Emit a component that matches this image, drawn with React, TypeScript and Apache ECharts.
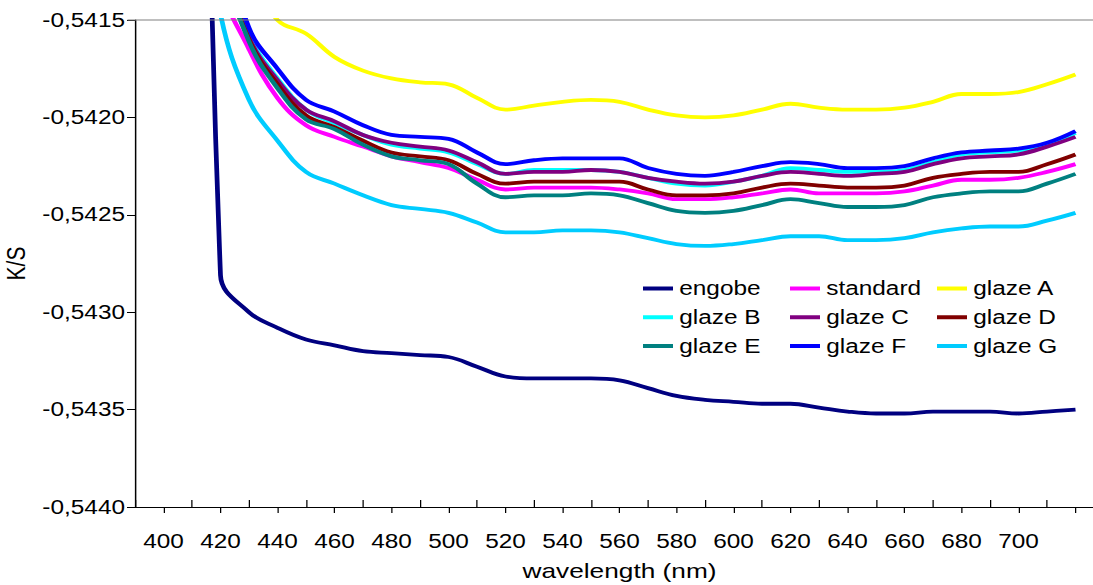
import React, { useEffect, useRef } from "react";
import * as echarts from "echarts";

// wavelengths (nm)
const wavelengths = [400, 410, 420, 430, 440, 450, 460, 470, 480, 490, 500, 510, 520, 530, 540, 550, 560, 570, 580, 590, 600, 610, 620, 630, 640, 650, 660, 670, 680, 690, 700, 710, 720];

const engobe = [-0.5340, -0.5355, -0.54281, -0.54300, -0.54308, -0.54314, -0.54317, -0.54320, -0.54321, -0.54322, -0.54323, -0.54328, -0.54333, -0.54334, -0.54334, -0.54334, -0.54335, -0.54339, -0.54343, -0.54345, -0.54346, -0.54347, -0.54347, -0.54349, -0.54351, -0.54352, -0.54352, -0.54351, -0.54351, -0.54351, -0.54352, -0.54351, -0.54350];
const standard = [null, -0.5400, -0.54130, -0.54165, -0.54190, -0.54204, -0.54210, -0.54215, -0.54220, -0.54223, -0.54226, -0.54232, -0.54237, -0.54236, -0.54236, -0.54236, -0.54237, -0.54239, -0.54242, -0.54242, -0.54241, -0.54239, -0.54237, -0.54239, -0.54239, -0.54239, -0.54238, -0.54235, -0.54232, -0.54232, -0.54231, -0.54228, -0.54224];
const glazeA = [null, null, -0.5408, -0.54125, -0.54150, -0.54157, -0.54169, -0.54176, -0.54180, -0.54182, -0.54183, -0.54190, -0.54196, -0.54194, -0.54192, -0.54191, -0.54192, -0.54196, -0.54199, -0.54200, -0.54199, -0.54196, -0.54193, -0.54195, -0.54196, -0.54196, -0.54195, -0.54192, -0.54188, -0.54188, -0.54187, -0.54183, -0.54178];
const glazeB = [null, -0.5400, -0.54115, -0.54158, -0.54180, -0.54196, -0.54203, -0.54209, -0.54214, -0.54216, -0.54218, -0.54224, -0.54229, -0.54227, -0.54227, -0.54227, -0.54228, -0.54231, -0.54234, -0.54235, -0.54233, -0.54230, -0.54226, -0.54227, -0.54228, -0.54228, -0.54227, -0.54223, -0.54219, -0.54218, -0.54217, -0.54214, -0.54208];
const glazeC = [null, -0.5400, -0.54115, -0.54159, -0.54181, -0.54196, -0.54202, -0.54209, -0.54213, -0.54215, -0.54217, -0.54223, -0.54229, -0.54228, -0.54228, -0.54227, -0.54228, -0.54231, -0.54233, -0.54234, -0.54233, -0.54230, -0.54228, -0.54229, -0.54230, -0.54229, -0.54228, -0.54224, -0.54221, -0.54220, -0.54219, -0.54215, -0.54210];
const glazeD = [null, -0.5400, -0.54115, -0.54160, -0.54183, -0.54199, -0.54205, -0.54212, -0.54218, -0.54220, -0.54222, -0.54229, -0.54234, -0.54233, -0.54233, -0.54233, -0.54233, -0.54237, -0.54240, -0.54240, -0.54239, -0.54236, -0.54234, -0.54235, -0.54236, -0.54236, -0.54235, -0.54231, -0.54229, -0.54228, -0.54228, -0.54224, -0.54219];
const glazeE = [null, -0.5400, -0.54115, -0.54161, -0.54185, -0.54201, -0.54206, -0.54214, -0.54220, -0.54222, -0.54224, -0.54234, -0.54241, -0.54240, -0.54240, -0.54239, -0.54240, -0.54244, -0.54248, -0.54249, -0.54248, -0.54245, -0.54242, -0.54244, -0.54246, -0.54246, -0.54245, -0.54241, -0.54239, -0.54238, -0.54238, -0.54234, -0.54229];
const glazeF = [null, -0.5400, -0.54100, -0.54154, -0.54175, -0.54191, -0.54197, -0.54204, -0.54209, -0.54210, -0.54211, -0.54218, -0.54224, -0.54222, -0.54221, -0.54221, -0.54221, -0.54226, -0.54229, -0.54230, -0.54228, -0.54225, -0.54223, -0.54224, -0.54226, -0.54226, -0.54225, -0.54221, -0.54218, -0.54217, -0.54216, -0.54213, -0.54207];
const glazeG = [null, -0.5405, -0.54147, -0.54191, -0.54212, -0.54228, -0.54234, -0.54240, -0.54245, -0.54247, -0.54249, -0.54254, -0.54259, -0.54259, -0.54258, -0.54258, -0.54259, -0.54262, -0.54265, -0.54266, -0.54265, -0.54263, -0.54261, -0.54261, -0.54263, -0.54263, -0.54262, -0.54259, -0.54257, -0.54256, -0.54256, -0.54253, -0.54249];

const seriesNames = ["engobe", "standard", "glaze A", "glaze B", "glaze C", "glaze D", "glaze E", "glaze F", "glaze G"];
const seriesValues = [engobe, standard, glazeA, glazeB, glazeC, glazeD, glazeE, glazeF, glazeG];
const seriesColors = ["#000080", "#FF00FF", "#FFFF00", "#00FFFF", "#800080", "#800000", "#008080", "#0000FF", "#00CCFF"];

const legendColumns = [
  ["engobe", "glaze B", "glaze E"],
  ["standard", "glaze C", "glaze F"],
  ["glaze A", "glaze D", "glaze G"],
];

const xLabelValues = [400, 420, 440, 460, 480, 500, 520, 540, 560, 580, 600, 620, 640, 660, 680, 700];

const FONT = "'Liberation Sans', Arial, sans-serif";
const SX = 1.25;

export default function App() {
  const ref = useRef<HTMLDivElement>(null);

  useEffect(() => {
    if (!ref.current) return;
    const chart = echarts.init(ref.current, undefined, { renderer: "svg" });
    const xCommon = { type: "value", min: 390, max: 730, position: "bottom", splitLine: { show: false } };
    const option: any = {
      animation: false,
      backgroundColor: "#ffffff",
      textStyle: { fontFamily: FONT },
      grid: { left: 108, top: 20, width: 775.2, height: 487, containLabel: false, outerBoundsMode: "none" },
      xAxis: [
        {
          ...xCommon,
          interval: 10,
          axisLine: { show: true, onZero: false, lineStyle: { color: "#000", width: 1.2 } },
          axisTick: { show: false },
          axisLabel: {
            color: "#000",
            fontSize: 19.5,
            fontFamily: FONT,
            margin: 24,
            showMaxLabel: false,
            formatter: (v: number) => (xLabelValues.indexOf(Math.round(v)) >= 0 ? String(Math.round(v)) : ""),
          },
          name: "wavelength (nm)",
          nameLocation: "middle",
          nameGap: 53,
          nameTextStyle: { color: "#000", fontSize: 21, fontFamily: FONT },
        },
        {
          ...xCommon,
          interval: 20,
          axisLine: { show: false, onZero: false },
          axisLabel: { show: false },
          axisTick: { show: true, inside: true, length: 7, lineStyle: { color: "#000", width: 1 } },
          minorTick: { show: true, splitNumber: 2, length: -6, lineStyle: { color: "#000", width: 1 } },
        },
      ],
      yAxis: {
        type: "value",
        min: -0.544,
        max: -0.5415,
        interval: 0.0005,
        splitLine: { show: false },
        axisLine: { show: true, lineStyle: { color: "#000", width: 1.2 } },
        axisTick: { show: true, length: 6.4, lineStyle: { color: "#000", width: 1 } },
        axisLabel: {
          color: "#000",
          fontSize: 19.5,
          fontFamily: FONT,
          margin: 8,
          formatter: (v: number) => v.toFixed(4).replace(".", ","),
        },
        name: "K/S",
        nameLocation: "middle",
        nameGap: 84,
        nameTextStyle: { color: "#000", fontSize: 21, fontFamily: FONT },
      },
      legend: legendColumns.map((names, i) => ({
        orient: "vertical",
        left: [514.4, 632, 749.6][i],
        top: 278.5,
        padding: 0,
        icon: "rect",
        itemWidth: 24,
        itemHeight: 4,
        itemGap: 8.75,
        selectedMode: false,
        data: names,
        textStyle: { color: "#000", fontSize: 19.5, fontFamily: FONT, lineHeight: 20 },
      })),
      graphic: [
        {
          type: "line",
          shape: { x1: 102, y1: 20, x2: 900, y2: 20 },
          style: { stroke: "#808080", lineWidth: 1.2 },
          z: 100,
        },
      ],
      series: seriesNames.map((name, i) => ({
        name,
        type: "line",
        xAxisIndex: 0,
        symbol: "none",
        showSymbol: false,
        smooth: 0.4,
        clip: true,
        lineStyle: { color: seriesColors[i], width: 3.8 },
        itemStyle: { color: seriesColors[i] },
        data: wavelengths.map((w, j) => [w, seriesValues[i][j]]),
      })),
    };
    chart.setOption(option);
    return () => chart.dispose();
  }, []);

  return (
    <div
      style={{
        position: "fixed",
        left: 0,
        top: 0,
        width: 1093,
        height: 585,
        overflow: "hidden",
        background: "#fff",
      }}
    >
      <div
        ref={ref}
        style={{ width: 900, height: 585, transform: `scaleX(${SX})`, transformOrigin: "0 0" }}
      />
    </div>
  );
}
